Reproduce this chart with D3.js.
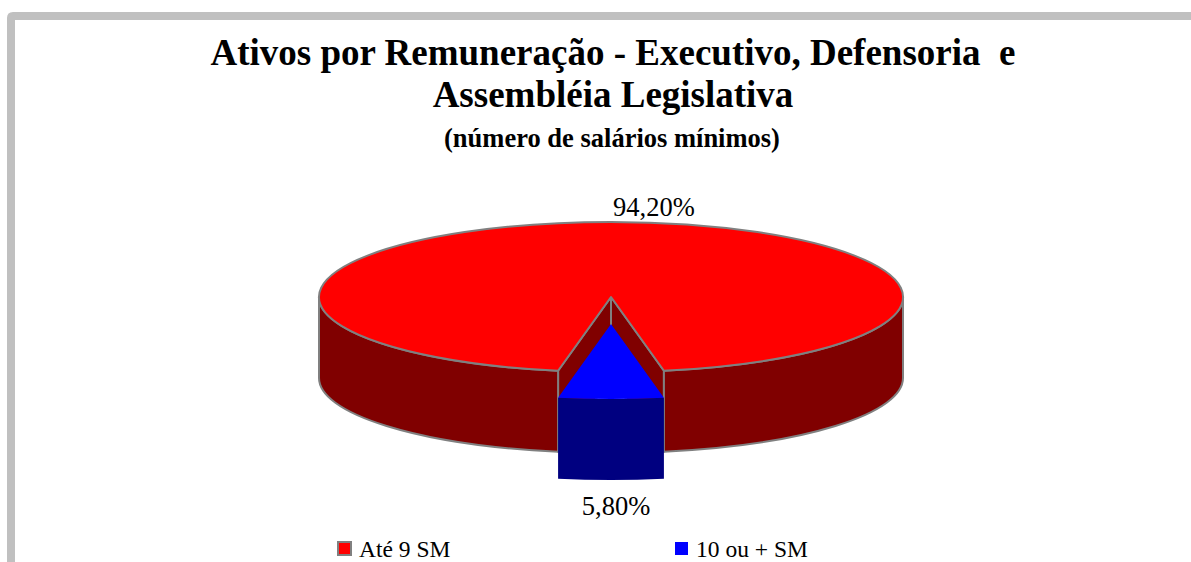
<!DOCTYPE html>
<html>
<head>
<meta charset="utf-8">
<script src="https://cdn.jsdelivr.net/npm/d3@7"></script>
<style>
  html, body { margin: 0; padding: 0; background: #fff; overflow: hidden; }
  svg { display: block; }
  svg text { font-family: "Liberation Serif", "Times New Roman", Times, "DejaVu Serif", serif; }
</style>
</head>
<body>
<div id="chart"></div>
<script>
// data
const categories = ["Até 9 SM", "10 ou + SM"];
const values = [94.2, 5.8];
const valueLabels = ["94,20%", "5,80%"];
const titleLines = ["Ativos por Remuneração - Executivo, Defensoria  e", "Assembléia Legislativa"];
const subtitle = "(número de salários mínimos)";

const width = 1191;
const height = 562;

// 3d pie geometry
const cx = 611, cy = 297;
const rx = 292, ry = 75;
const depth = 81;
const explode = [0, 0.36]; // only the small slice is pulled out

const topColors = ["#ff0000", "#0000ff"];
const sideColors = ["#800000", "#000080"];
const strokes = ["#808080", "none"];

const svg = d3.select("#chart").append("svg")
  .attr("width", width)
  .attr("height", height);

svg.append("rect")
  .attr("width", width).attr("height", height)
  .attr("fill", "#fff");

// frame: only top and left edges fall inside the picture
svg.append("path")
  .attr("d", "M11,800V18Q11,16 13,16H1400")
  .attr("fill", "none")
  .attr("stroke", "#c0c0c0")
  .attr("stroke-width", 8);

// titles
const title = svg.append("g")
  .attr("font-weight", "bold")
  .attr("text-anchor", "middle")
  .attr("fill", "#000");

title.selectAll("text.t")
  .data(titleLines)
  .join("text")
  .attr("class", "t")
  .attr("x", 613)
  .attr("y", (d, i) => 65 + i * 42)
  .attr("font-size", 37)
  .style("white-space", "pre")
  .text(d => d);

title.append("text")
  .attr("x", 612)
  .attr("y", 147)
  .attr("font-size", 26.5)
  .text(subtitle);

// slice angles: rotate so the small slice points at the viewer
const pieRaw = d3.pie().sort(null)(values);
const last = pieRaw[pieRaw.length - 1];
const rot = Math.PI - (last.startAngle + last.endAngle) / 2;
const arcs = d3.pie().sort(null)
  .startAngle(rot)
  .endAngle(rot + 2 * Math.PI)(values);

const pt = (a, ox, oy, dz = 0) => [
  cx + ox + rx * Math.sin(a),
  cy + oy - ry * Math.cos(a) + dz
];

function offsetOf(d) {
  const mid = (d.startAngle + d.endAngle) / 2;
  const e = explode[d.index];
  return [e * rx * Math.sin(mid), -e * ry * Math.cos(mid)];
}

function topPath(d) {
  const [ox, oy] = offsetOf(d);
  const p0 = pt(d.startAngle, ox, oy), p1 = pt(d.endAngle, ox, oy);
  const large = d.endAngle - d.startAngle > Math.PI ? 1 : 0;
  return `M${cx + ox},${cy + oy}L${p0}A${rx},${ry} 0 ${large} 1 ${p1}Z`;
}

// visible parts of the outer wall: angles in [pi/2, 3pi/2] (mod 2pi)
function sideRanges(d) {
  const out = [];
  for (let k = -1; k <= 2; k++) {
    const lo = Math.max(d.startAngle, Math.PI / 2 + 2 * Math.PI * k);
    const hi = Math.min(d.endAngle, 3 * Math.PI / 2 + 2 * Math.PI * k);
    if (hi > lo) out.push([lo, hi]);
  }
  return out;
}

function sidePath(d, a0, a1) {
  const [ox, oy] = offsetOf(d);
  const t0 = pt(a0, ox, oy), t1 = pt(a1, ox, oy);
  const b0 = pt(a0, ox, oy, depth), b1 = pt(a1, ox, oy, depth);
  return `M${t0}A${rx},${ry} 0 0 1 ${t1}L${b1}A${rx},${ry} 0 0 0 ${b0}Z`;
}

function facePath(d, a) {
  const [ox, oy] = offsetOf(d);
  const c = [cx + ox, cy + oy];
  const t = pt(a, ox, oy), b = pt(a, ox, oy, depth);
  return `M${c}L${t}L${b}L${c[0]},${c[1] + depth}Z`;
}

const pie = svg.append("g");

arcs.forEach(d => {
  const g = pie.append("g")
    .attr("stroke", strokes[d.index])
    .attr("stroke-width", 2)
    .attr("stroke-linejoin", "round");

  // cut faces that look toward the viewer
  const faces = [];
  if (Math.sin(d.startAngle) < 0) faces.push(d.startAngle);
  if (Math.sin(d.endAngle) > 0) faces.push(d.endAngle);
  g.selectAll("path.face")
    .data(faces)
    .join("path")
    .attr("class", "face")
    .attr("fill", sideColors[d.index])
    .attr("d", a => facePath(d, a));

  g.selectAll("path.side")
    .data(sideRanges(d))
    .join("path")
    .attr("class", "side")
    .attr("fill", sideColors[d.index])
    .attr("d", r => sidePath(d, r[0], r[1]));

  g.append("path")
    .attr("class", "top")
    .attr("fill", topColors[d.index])
    .attr("d", topPath(d));
});

// value labels
const labelG = svg.append("g")
  .attr("font-size", 26.5)
  .attr("fill", "#000");

labelG.selectAll("text")
  .data(arcs)
  .join("text")
  .attr("text-anchor", d => d.index === 0 ? "start" : "middle")
  .attr("x", d => {
    const mid = (d.startAngle + d.endAngle) / 2;
    const [ox] = offsetOf(d);
    return pt(mid, ox, 0)[0] + (d.index === 0 ? 2 : 5);
  })
  .attr("y", d => {
    const mid = (d.startAngle + d.endAngle) / 2;
    const [, oy] = offsetOf(d);
    const front = -Math.cos(mid) > 0;
    return front ? pt(mid, 0, oy, depth)[1] + 35 : pt(mid, 0, oy)[1] - 6;
  })
  .text(d => valueLabels[d.index]);

// legend
const legendX = d3.scalePoint().domain(categories).range([337, 674]);
const legend = svg.append("g")
  .attr("font-size", 23.5);

const item = legend.selectAll("g")
  .data(categories)
  .join("g")
  .attr("transform", d => `translate(${legendX(d)},541)`);

item.append("rect")
  .attr("x", 1).attr("y", 1)
  .attr("width", 13).attr("height", 13)
  .attr("fill", (d, i) => topColors[i])
  .attr("stroke", (d, i) => strokes[i])
  .attr("stroke-width", 2);

item.append("text")
  .attr("x", 22)
  .attr("y", 16)
  .text(d => d);
</script>
</body>
</html>
